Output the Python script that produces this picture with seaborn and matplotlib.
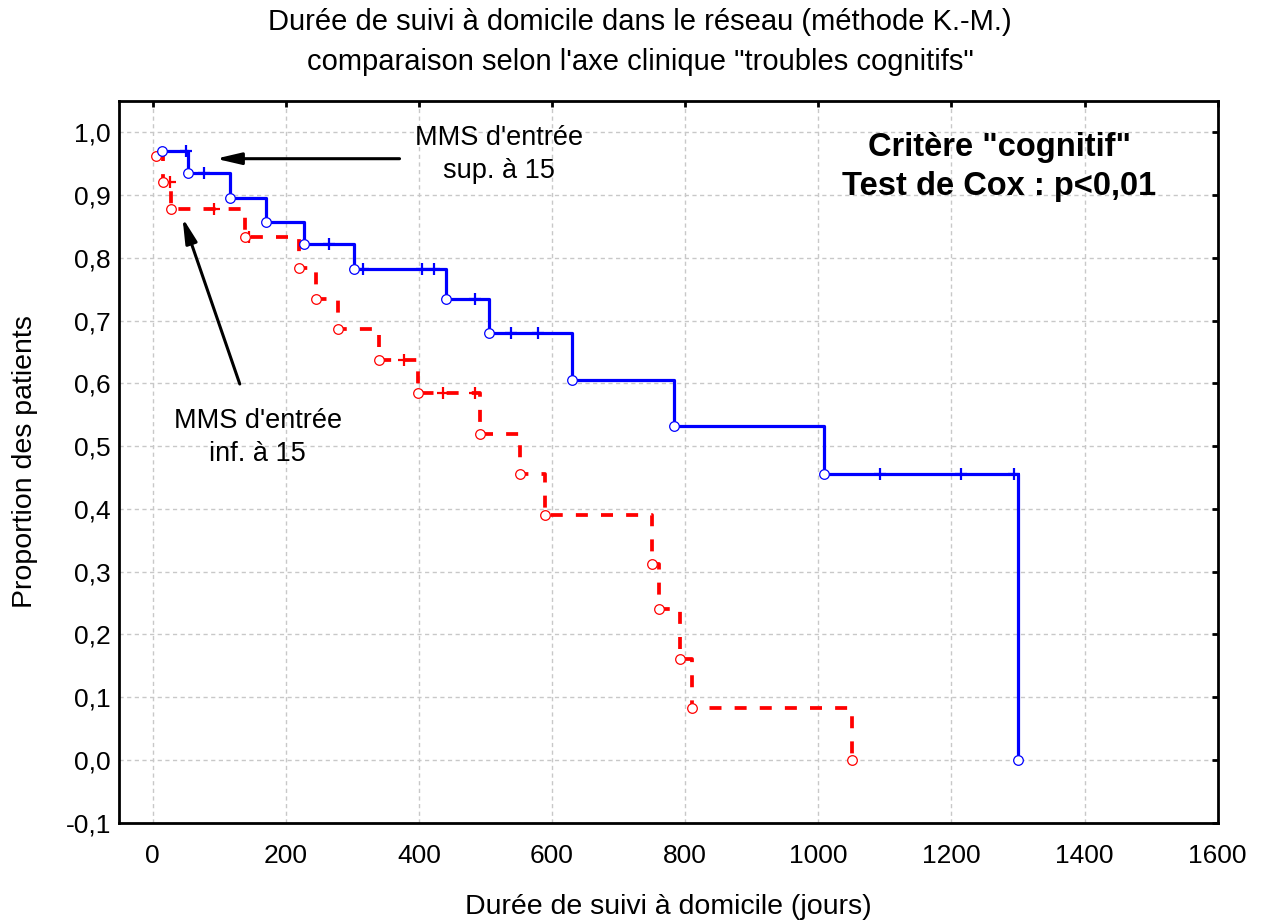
import numpy as np
import pandas as pd
import matplotlib
matplotlib.use("Agg")
import matplotlib.pyplot as plt
import seaborn as sns
from matplotlib.ticker import FixedLocator, FuncFormatter

# ---------------- data ----------------
blue_times = [14, 53, 117, 171, 227, 302, 441, 505, 630, 783, 1009, 1300]
blue_surv = [0.970, 0.935, 0.896, 0.857, 0.822, 0.783, 0.735, 0.680, 0.606, 0.532, 0.455, 0.0]
blue_censored = [50, 78, 265, 316, 405, 423, 484, 539, 579, 1092, 1215, 1294]

red_times = [5, 15, 28, 139, 220, 246, 278, 340, 399, 492, 552, 590, 750, 760, 792, 810, 1051]
red_surv = [0.962, 0.921, 0.878, 0.833, 0.784, 0.735, 0.687, 0.637, 0.584, 0.520, 0.456,
            0.391, 0.313, 0.240, 0.161, 0.082, 0.0]
red_censored = [26, 92, 145, 377, 437, 484]

x_ticks = [0, 200, 400, 600, 800, 1000, 1200, 1400, 1600]
y_ticks = [-0.1, 0.0, 0.1, 0.2, 0.3, 0.4, 0.5, 0.6, 0.7, 0.8, 0.9, 1.0]

title_lines = ["Durée de suivi à domicile dans le réseau (méthode K.-M.)",
               "comparaison selon l'axe clinique \"troubles cognitifs\""]
x_label = "Durée de suivi à domicile (jours)"
y_label = "Proportion des patients"

# ---------------- style ----------------
sns.set_style("white")
plt.rcParams["font.family"] = ["Liberation Sans", "DejaVu Sans"]
plt.rcParams["text.color"] = "black"
plt.rcParams["axes.labelcolor"] = "black"
plt.rcParams["xtick.color"] = "black"
plt.rcParams["ytick.color"] = "black"

BLUE = "#0000ff"
RED = "#ff0000"


def step_value(times, surv, t):
    idx = np.searchsorted(np.asarray(times), t, side="right") - 1
    return surv[idx]


blue_df = pd.DataFrame({"t": blue_times, "s": blue_surv})
red_df = pd.DataFrame({"t": red_times, "s": red_surv})
blue_c = pd.DataFrame({"t": blue_censored,
                       "s": [step_value(blue_times, blue_surv, t) for t in blue_censored]})
red_c = pd.DataFrame({"t": red_censored,
                      "s": [step_value(red_times, red_surv, t) for t in red_censored]})

fig = plt.figure(figsize=(12.65, 9.22), dpi=100)
ax = fig.add_axes([0.0943, 0.1077, 0.9626 - 0.0943, 0.8905 - 0.1077])

# red (dashed) group
sns.lineplot(data=red_df, x="t", y="s", ax=ax, color=RED, lw=2.7,
             drawstyle="steps-post", estimator=None, sort=False,
             linestyle=(0, (3.2, 3.5)), zorder=3)
sns.scatterplot(data=red_c, x="t", y="s", ax=ax, marker="+", s=85,
                color=RED, linewidth=1.6, zorder=4)
sns.scatterplot(data=red_df, x="t", y="s", ax=ax, marker="o", s=48,
                facecolor="white", edgecolor=RED, linewidth=0.9, zorder=5)

# blue (solid) group
sns.lineplot(data=blue_df, x="t", y="s", ax=ax, color=BLUE, lw=2.3,
             drawstyle="steps-post", estimator=None, sort=False, zorder=6)
sns.scatterplot(data=blue_c, x="t", y="s", ax=ax, marker="+", s=85,
                color=BLUE, linewidth=1.6, zorder=7)
sns.scatterplot(data=blue_df, x="t", y="s", ax=ax, marker="o", s=48,
                facecolor="white", edgecolor=BLUE, linewidth=0.9, zorder=8)

ax.set_xlim(-50, 1600)
ax.set_ylim(-0.1, 1.05)
ax.xaxis.set_major_locator(FixedLocator(x_ticks))
ax.yaxis.set_major_locator(FixedLocator(y_ticks))
ax.yaxis.set_major_formatter(FuncFormatter(lambda v, p: f"{v:.1f}".replace(".", ",").replace("-0,0", "0,0")))
ax.xaxis.set_major_formatter(FuncFormatter(lambda v, p: f"{int(round(v))}"))

ax.grid(True, color="#c8c8c8", linestyle=(0, (3, 2.5)), linewidth=1.0, zorder=0)
ax.set_axisbelow(True)
for sp in ax.spines.values():
    sp.set_visible(True)
    sp.set_color("black")
    sp.set_linewidth(2.0)

ax.tick_params(axis="both", which="major", direction="in", length=4, width=2,
               top=True, right=True, labelsize=19, colors="black")
ax.tick_params(axis="x", pad=15)
ax.tick_params(axis="y", pad=6)

ax.set_xlabel(x_label, fontsize=20.5)
ax.set_ylabel(y_label, fontsize=20.5)
ax.xaxis.label.set_va("center")
ax.xaxis.set_label_coords(0.5, -0.117)
ax.yaxis.label.set_va("center")
ax.yaxis.set_label_coords(-0.086, 0.5)

fig.text(0.506, 1 - 22 / 922, title_lines[0], ha="center", va="center", fontsize=21)
fig.text(0.506, 1 - 62 / 922, title_lines[1], ha="center", va="center", fontsize=21)

# annotations
ax.annotate("", xy=(95, 0.958), xytext=(371, 0.958),
            arrowprops=dict(arrowstyle="-|>,head_length=1.5,head_width=0.35",
                            color="black", lw=2.2, shrinkA=0, shrinkB=0), zorder=9)
ax.annotate("", xy=(45, 0.864), xytext=(131, 0.599),
            arrowprops=dict(arrowstyle="-|>,head_length=1.5,head_width=0.35",
                            color="black", lw=2.2, shrinkA=0, shrinkB=0), zorder=9)
ax.text(521, 0.964, "MMS d'entrée\nsup. à 15", ha="center", va="center",
        fontsize=19.5, linespacing=1.35, zorder=10)
ax.text(158, 0.513, "MMS d'entrée\ninf. à 15", ha="center", va="center",
        fontsize=19.5, linespacing=1.35, zorder=10)
ax.text(1272, 0.945, "Critère \"cognitif\"\nTest de Cox : p<0,01", ha="center", va="center",
        fontsize=23.5, fontweight="bold", linespacing=1.32, zorder=10)

legend = ax.get_legend()
if legend is not None:
    legend.remove()

fig.savefig("out.png", dpi=100)
